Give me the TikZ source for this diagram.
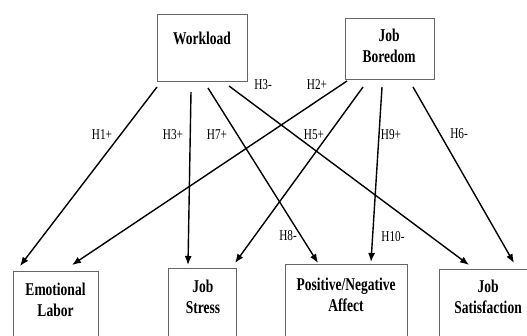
\documentclass[tikz,border=0pt]{standalone}
\usepackage{fontspec}
\setmainfont{Liberation Serif}[FakeStretch=0.75]
\usetikzlibrary{arrows.meta}
\tikzset{
  box/.style={draw=black!60, line width=0.9pt, rectangle, inner sep=0pt, anchor=north west},
  boxtext/.style={font=\bfseries\fontsize{18}{21}\selectfont, anchor=base, inner sep=0pt},
  hlabel/.style={font=\fontsize{15}{17}\selectfont, anchor=base, inner sep=0pt},
  link/.style={line width=1.4pt, -{Latex[length=9pt,width=7pt]}},
}
\newcommand{\twolines}[2]{\begin{tabular}[t]{@{}c@{}}#1\\#2\end{tabular}}
\begin{document}
\begin{tikzpicture}[x=1pt,y=-1pt]
\useasboundingbox (0,0) rectangle (527,336);
\clip (0,0) rectangle (527,336);
\fill[white] (0,0) rectangle (527,336);
% boxes
\node[box, minimum width=90pt, minimum height=67pt] (wl) at (157,14) {};
\node[box, minimum width=89pt, minimum height=61pt] (jb) at (345,18) {};
\node[box, minimum width=85pt, minimum height=80pt] (el) at (13,271) {};
\node[box, minimum width=68pt, minimum height=80pt] (js) at (168,268) {};
\node[box, minimum width=122pt, minimum height=80pt] (pn) at (285,264) {};
\node[box, minimum width=110pt, minimum height=80pt] (sat) at (439,269) {};
% texts
\node[boxtext] (wlt) at (202,45) {Workload};
\node[boxtext] (jbt) at (389,42) {\twolines{Job}{Boredom}};
\node[boxtext] (elt) at (55.5,295.5) {\twolines{Emotional}{Labor}};
\node[boxtext] (jst) at (203,292.5) {\twolines{Job}{Stress}};
\node[boxtext] (pnt) at (346,290.5) {\twolines{Positive/Negative}{Affect}};
\node[boxtext] (satt) at (488,293) {\twolines{Job}{Satisfaction}};
% start / end points
\coordinate (w1) at (157,87);
\coordinate (w2) at (191,92);
\coordinate (w3) at (208,88);
\coordinate (w4) at (229,86);
\coordinate (b1) at (347,81);
\coordinate (b2) at (363,87);
\coordinate (b3) at (382,87);
\coordinate (b4) at (413,87);
\coordinate (e1) at (20,266);
\coordinate (e2) at (72,265);
\coordinate (s1) at (188,265);
\coordinate (s2) at (235,263);
\coordinate (p1) at (318,263);
\coordinate (p2) at (371,262);
\coordinate (f1) at (469,265);
\coordinate (f2) at (514,263);
% connectors
\draw[link] (w1) -- (e1);
\draw[link] (w2) -- (s1);
\draw[link] (w3) -- (p1);
\draw[link] (w4) -- (f1);
\draw[link] (b1) -- (e2);
\draw[link] (b2) -- (s2);
\draw[link] (b3) -- (p2);
\draw[link] (b4) -- (f2);
% labels
\node[hlabel] (h1) at (102,140) {H1+};
\node[hlabel] (h3p) at (173,140) {H3+};
\node[hlabel] (h7) at (217,140) {H7+};
\node[hlabel] (h5) at (314,140) {H5+};
\node[hlabel] (h9) at (391,140) {H9+};
\node[hlabel] (h6) at (459,139) {H6-};
\node[hlabel] (h10) at (393,242) {H10-};
\node[hlabel] (h8) at (288,241) {H8-};
\node[hlabel] (h2) at (317,90) {H2+};
\node[hlabel] (h3m) at (263,90) {H3-};
\end{tikzpicture}
\end{document}
